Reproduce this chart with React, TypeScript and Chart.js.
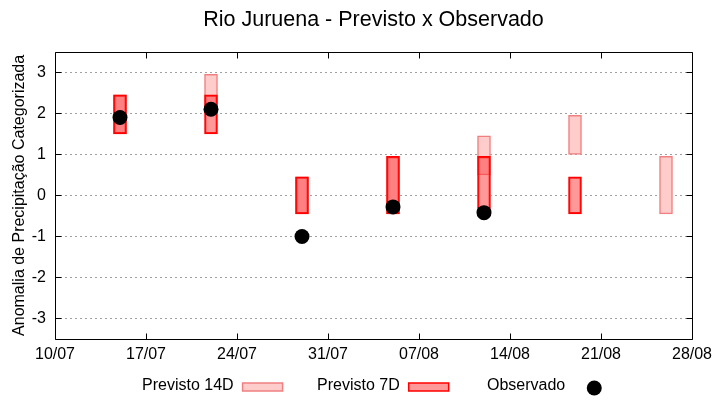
import React, { useEffect, useRef } from "react";
import { Chart, registerables } from "chart.js";

Chart.register(...registerables);

const TITLE = "Rio Juruena - Previsto x Observado";
const Y_TITLE = "Anomalia de Precipitação Categorizada";
const X_TICK_DAYS = [0, 7, 14, 21, 28, 35, 42, 49];
const X_TICK_LABELS = ["10/07", "17/07", "24/07", "31/07", "07/08", "14/08", "21/08", "28/08"];
const Y_TICKS = [-3, -2, -1, 0, 1, 2, 3];
// forecast dates, as days since 10/07
const WEEK_DAYS = [5, 12, 19, 26, 33, 40, 47];
const P14_LOW = [1.5, 2.0, -0.45, -0.45, 0.5, 1.0, -0.45];
const P14_HIGH = [2.45, 2.95, 0.45, 0.95, 1.45, 1.95, 0.95];
const P7_LOW: (number | null)[] = [1.5, 1.5, -0.45, -0.45, -0.45, -0.45, null];
const P7_HIGH: (number | null)[] = [2.45, 2.45, 0.45, 0.95, 0.95, 0.45, null];
const OBSERVED: (number | null)[] = [1.9, 2.1, -1.0, -0.28, -0.42, null, null];

const FONT = "'Liberation Sans', Arial, sans-serif";

const C14_FILL = "#ffcccc";
const C14_BORDER = "#f08080";
const C7_FILL = "rgba(255,51,51,0.5)";
const C7_BORDER = "#ff0000";

function rangeData(lo: (number | null)[], hi: (number | null)[]) {
  const out: any[] = [];
  WEEK_DAYS.forEach((d, i) => {
    if (lo[i] != null && hi[i] != null) out.push({ x: d, y: [lo[i], hi[i]] });
  });
  return out;
}

const framePlugin = {
  id: "frame",
  afterDatasetsDraw(chart: any) {
    const { ctx, chartArea: a, scales } = chart;
    ctx.save();
    ctx.strokeStyle = "#000";
    ctx.lineWidth = 1;
    ctx.beginPath();
    const L = Math.round(a.left) + 0.5, R = Math.round(a.right) + 0.5;
    const T = Math.round(a.top) + 0.5, B = Math.round(a.bottom) + 0.5;
    ctx.rect(L, T, R - L, B - T);
    const tl = 6;
    Y_TICKS.forEach((v) => {
      const y = Math.round(scales.y.getPixelForValue(v)) + 0.5;
      ctx.moveTo(L, y); ctx.lineTo(L + tl, y);
      ctx.moveTo(R, y); ctx.lineTo(R - tl, y);
    });
    X_TICK_DAYS.forEach((v) => {
      const x = Math.round(scales.x.getPixelForValue(v)) + 0.5;
      ctx.moveTo(x, B); ctx.lineTo(x, B - tl);
      ctx.moveTo(x, T); ctx.lineTo(x, T + tl);
    });
    ctx.stroke();
    ctx.restore();
  },
};

const legendPlugin = {
  id: "customLegend",
  afterDraw(chart: any) {
    const { ctx } = chart;
    const ds = chart.data.datasets;
    const items = [
      { label: ds[1].label, kind: "box", fill: C14_FILL, stroke: C14_BORDER },
      { label: ds[2].label, kind: "box", fill: "#ff9999", stroke: C7_BORDER },
      { label: ds[3].label, kind: "dot" },
    ];
    const starts = [142, 317, 487];
    const yc = 386;
    ctx.save();
    ctx.font = "16px " + FONT;
    ctx.textBaseline = "middle";
    ctx.textAlign = "left";
    items.forEach((it: any, i: number) => {
      const x0 = starts[i];
      ctx.fillStyle = "#000";
      ctx.fillText(it.label, x0, yc);
      const w = ctx.measureText(it.label).width;
      const sx = x0 + w + 9;
      if (it.kind === "box") {
        ctx.fillStyle = it.fill;
        ctx.fillRect(sx, yc - 3, 40, 8);
        ctx.strokeStyle = it.stroke;
        ctx.lineWidth = 1.5;
        ctx.strokeRect(sx, yc - 3, 40, 8);
      } else {
        ctx.fillStyle = "#000";
        ctx.beginPath();
        ctx.arc(sx + 20, yc + 2, 7.5, 0, Math.PI * 2);
        ctx.fill();
      }
    });
    ctx.restore();
  },
};

export default function App() {
  const ref = useRef<HTMLCanvasElement | null>(null);
  useEffect(() => {
    if (!ref.current) return;
    Chart.defaults.color = "#000";
    Chart.defaults.font.family = FONT;
    const chart = new Chart(ref.current, {
      type: "bar",
      data: {
        datasets: [
          {
            label: "backing",
            data: rangeData(P7_LOW, P7_HIGH),
            backgroundColor: "#ffffff",
            borderWidth: 0,
            order: 4,
          } as any,
          {
            label: "Previsto 14D",
            data: rangeData(P14_LOW, P14_HIGH),
            backgroundColor: C14_FILL,
            borderColor: C14_BORDER,
            borderWidth: 1.5,
            borderSkipped: false,
            order: 3,
          },
          {
            label: "Previsto 7D",
            data: rangeData(P7_LOW, P7_HIGH),
            backgroundColor: C7_FILL,
            borderColor: C7_BORDER,
            borderWidth: 1.5,
            borderSkipped: false,
            order: 2,
          },
          {
            type: "line",
            label: "Observado",
            data: WEEK_DAYS.map((d, i) => ({ x: d, y: OBSERVED[i] })).filter((p) => p.y != null),
            showLine: false,
            pointRadius: 7.5,
            pointBackgroundColor: "#000",
            pointBorderWidth: 0,
            order: 1,
          } as any,
        ],
      },
      options: {
        responsive: false,
        animation: false,
        events: [],
        datasets: { bar: { grouped: false, barThickness: 13 } } as any,
        layout: { padding: { left: 0, right: 28, top: 0, bottom: 0 } },
        plugins: {
          legend: { display: false },
          tooltip: { enabled: false },
          title: {
            display: true,
            text: TITLE,
            fullSize: false,
            color: "#000",
            font: { size: 21.5, weight: "normal", family: FONT, lineHeight: 1.2 },
            padding: { top: 7, bottom: 19 },
          } as any,
        },
        scales: {
          x: {
            type: "linear",
            min: 0,
            max: 49,
            offset: false,
            grid: { display: false, drawTicks: false, offset: false },
            border: { display: false },
            afterBuildTicks: (s: any) => {
              s.ticks = X_TICK_DAYS.map((v) => ({ value: v }));
            },
            afterFit: (s: any) => {
              s.height = 61;
            },
            ticks: {
              autoSkip: false,
              maxRotation: 0,
              padding: 6,
              color: "#000",
              font: { size: 16, family: FONT },
              callback: (v: any) => {
                const i = X_TICK_DAYS.indexOf(Number(v));
                return i >= 0 ? X_TICK_LABELS[i] : "";
              },
            },
          },
          y: {
            type: "linear",
            min: -3.5,
            max: 3.5,
            grid: { color: "#a0a0a0", lineWidth: 1, drawTicks: false },
            border: { display: false, dash: [2, 3] },
            afterBuildTicks: (s: any) => {
              s.ticks = Y_TICKS.map((v) => ({ value: v }));
            },
            afterFit: (s: any) => {
              s.width = 55;
            },
            ticks: {
              padding: 9,
              color: "#000",
              font: { size: 16, family: FONT },
              callback: (v: any) => String(v),
            },
            title: {
              display: true,
              text: Y_TITLE,
              color: "#000",
              font: { size: 16, family: FONT, lineHeight: 1.2 },
              padding: { top: 10, bottom: 0 },
            },
          },
        },
      },
      plugins: [framePlugin, legendPlugin],
    } as any);
    return () => chart.destroy();
  }, []);
  return (
    <div style={{ position: "absolute", left: 0, top: 0, width: 720, height: 400 }}>
      <canvas ref={ref} width={720} height={400} style={{ display: "block" }} />
    </div>
  );
}
